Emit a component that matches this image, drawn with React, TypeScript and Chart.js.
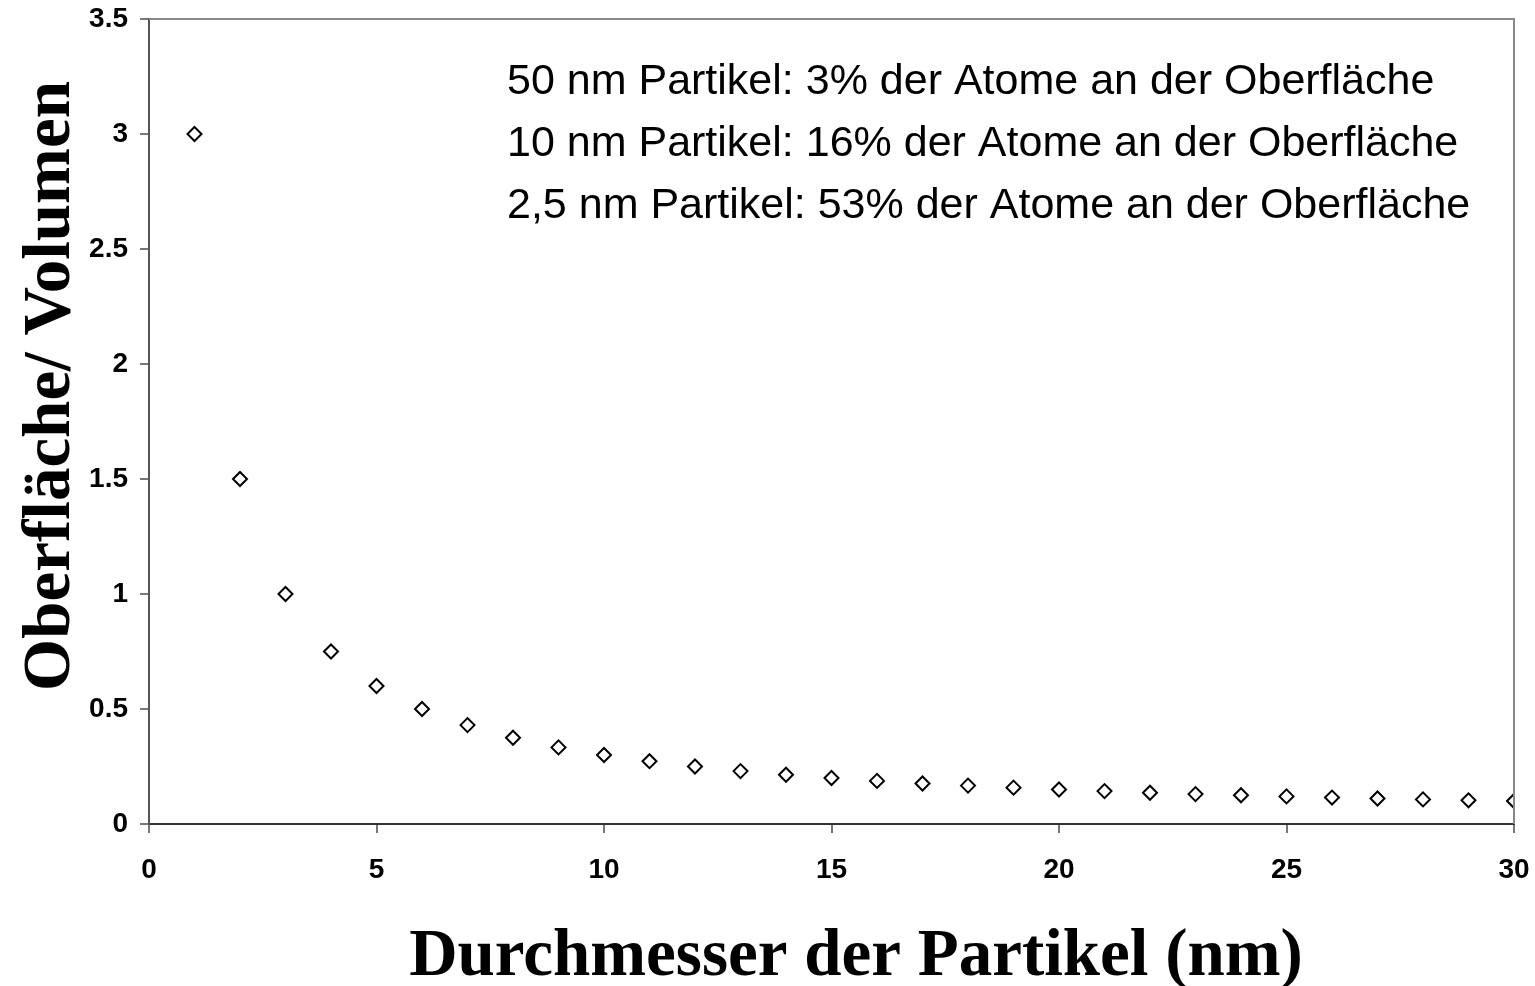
import React, { useEffect, useRef } from "react";
import { Chart, registerables } from "chart.js";

Chart.register(...registerables);

const diameters = [1, 2, 3, 4, 5, 6, 7, 8, 9, 10, 11, 12, 13, 14, 15, 16, 17, 18, 19, 20, 21, 22, 23, 24, 25, 26, 27, 28, 29, 30];
const ratios = [3, 1.5, 1, 0.75, 0.6, 0.5, 0.43, 0.375, 0.333, 0.3, 0.273, 0.25, 0.23, 0.214, 0.2, 0.1875, 0.176, 0.167, 0.158, 0.15, 0.143, 0.136, 0.13, 0.125, 0.12, 0.115, 0.111, 0.107, 0.103, 0.1];
const xTicks = [0, 5, 10, 15, 20, 25, 30];
const yTicks = [0, 0.5, 1, 1.5, 2, 2.5, 3, 3.5];
const yTickLabels = ["0", "0.5", "1", "1.5", "2", "2.5", "3", "3.5"];
const annotations = [
  "50 nm Partikel: 3% der Atome an der Oberfläche",
  "10 nm Partikel: 16% der Atome an der Oberfläche",
  "2,5 nm Partikel: 53% der Atome an der Oberfläche",
];
const xTitle = "Durchmesser der Partikel (nm)";
const yTitle = "Oberfläche/ Volumen";

const SANS = "'Liberation Sans', Arial, sans-serif";
const SERIF = "'Liberation Serif', 'Times New Roman', serif";

const decorPlugin = {
  id: "decor",
  afterDraw(chart: any) {
    const { ctx, chartArea } = chart;
    const { left, right, top, bottom } = chartArea;
    ctx.save();
    ctx.strokeStyle = "#888888";
    ctx.lineWidth = 2;
    ctx.beginPath();
    ctx.moveTo(left, top);
    ctx.lineTo(right, top);
    ctx.lineTo(right, bottom);
    ctx.stroke();

    ctx.fillStyle = "#000";
    ctx.font = `43px ${SANS}`;
    ctx.textAlign = "left";
    ctx.textBaseline = "alphabetic";
    annotations.forEach((t, i) => {
      ctx.fillText(t, 507, 94 + i * 62);
    });

    ctx.font = `bold 67px ${SERIF}`;
    ctx.textAlign = "center";
    ctx.fillText(xTitle, 856, 975);

    ctx.translate(69, 386);
    ctx.rotate(-Math.PI / 2);
    ctx.textAlign = "center";
    ctx.fillText(yTitle, 0, 0);
    ctx.restore();
  },
};

export default function App() {
  const canvasRef = useRef<HTMLCanvasElement | null>(null);

  useEffect(() => {
    document.body.style.margin = "0";
    const canvas = canvasRef.current;
    if (!canvas) return;
    const chart = new Chart(canvas, {
      type: "scatter",
      data: {
        datasets: [
          {
            data: diameters.map((d, i) => ({ x: d, y: ratios[i] })),
            pointStyle: "rectRot",
            pointRadius: 7,
            pointBorderWidth: 2,
            pointBorderColor: "#000",
            pointBackgroundColor: "#fff",
            showLine: false,
          },
        ],
      },
      options: {
        responsive: false,
        animation: false,
        layout: { padding: { top: 19, right: 21, left: 0, bottom: 0 } },
        plugins: {
          legend: { display: false },
          tooltip: { enabled: false },
        },
        scales: {
          x: {
            type: "linear",
            min: 0,
            max: 30,
            afterBuildTicks: (scale: any) => {
              scale.ticks = xTicks.map((v) => ({ value: v }));
            },
            afterFit: (scale: any) => {
              scale.height = 162;
              scale.paddingLeft = 0;
              scale.paddingRight = 0;
            },
            ticks: {
              color: "#000",
              font: { family: SANS, size: 28, weight: "bold" },
              padding: 20,
              maxRotation: 0,
              autoSkip: false,
              callback: (v: any) => String(v),
            },
            grid: {
              drawOnChartArea: false,
              drawTicks: true,
              tickLength: 9,
              color: "#777777",
              lineWidth: 2,
            },
            border: { display: true, color: "#333333", width: 2 },
          },
          y: {
            type: "linear",
            min: 0,
            max: 3.5,
            afterBuildTicks: (scale: any) => {
              scale.ticks = yTicks.map((v) => ({ value: v }));
            },
            afterFit: (scale: any) => {
              scale.width = 149;
              scale.paddingTop = 0;
              scale.paddingBottom = 0;
            },
            ticks: {
              color: "#000",
              font: { family: SANS, size: 28, weight: "bold" },
              padding: 12,
              autoSkip: false,
              callback: (v: any) => {
                const i = yTicks.indexOf(Number(v));
                return i >= 0 ? yTickLabels[i] : String(v);
              },
            },
            grid: {
              drawOnChartArea: false,
              drawTicks: true,
              tickLength: 9,
              color: "#777777",
              lineWidth: 2,
            },
            border: { display: true, color: "#555555", width: 2 },
          },
        },
      },
      plugins: [decorPlugin],
    } as any);
    return () => chart.destroy();
  }, []);

  return (
    <div style={{ width: 1535, height: 986, background: "#fff" }}>
      <canvas ref={canvasRef} width={1535} height={986} style={{ display: "block" }} />
    </div>
  );
}
